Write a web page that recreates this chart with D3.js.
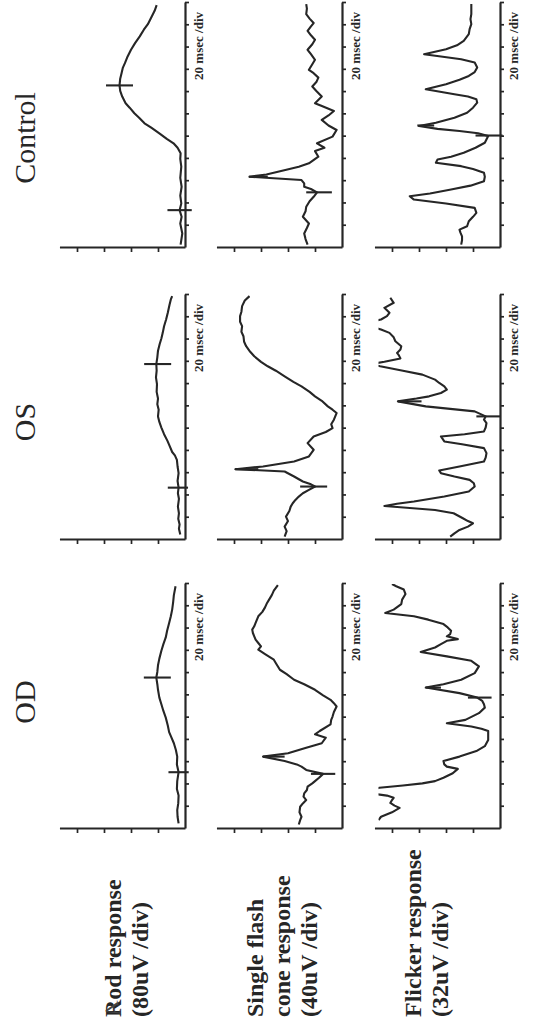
<!DOCTYPE html>
<html><head><meta charset="utf-8">
<script src="https://cdn.jsdelivr.net/npm/d3@7"></script>
<style>html,body{margin:0;padding:0;background:#fff;}svg{display:block}</style>
</head><body>
<svg id="chart" width="555" height="1034"></svg>
<script>
// ---------------- DATA ----------------
const columns = ["OD", "OS", "Control"];
const rowLabels = [
  ["Rod response", "(80uV /div)"],
  ["Single flash", "cone response", "(40uV /div)"],
  ["Flicker response", "(32uV /div)"]
];
const uVperDiv = [80, 40, 32];
const valueTickDivs = [1, 2, 3, 4];
const timeTicks = [20, 40, 60, 80, 100, 120, 140, 160, 180, 200, 220];
const timeMax = 220;
const timeLabel = "20 msec /div";

// Rod response (uV) vs time (ms)
const tRodOD = [5,11,17,23,30,36,43,51,58,65,71,77,82,87,93,100,106,112,118,125,130,136,141,147,153,160,166,172,178,185,191,197,204,210,218];
const vRodOD = [19,22,23,20,19,24,23,19,24,23,27,33,40,47,51,57,64,70,76,80,82,85,82,80,76,70,64,57,53,47,42,38,35,33,28];
const tRodOS = [5,10,14,19,24,30,37,42,47,53,60,66,72,76,79,84,89,95,101,106,111,117,122,127,133,140,146,152,158,164,170,176,181,186,192,198,204,211,216,219];
const vRodOS = [14,18,16,20,18,21,18,21,19,22,19,22,24,30,38,45,52,62,70,76,80,78,82,80,84,83,86,84,85,82,80,75,70,66,62,56,51,46,42,38];
const tRodCtl = [3,13,22,28,34,40,47,55,63,73,80,85,90,94,98,103,108,112,117,121,126,130,136,141,146,152,157,162,166,172,178,184,190,196,201,207,213,218];
const vRodCtl = [13,8,14,10,16,11,14,10,14,11,14,13,22,34,54,76,100,120,136,150,164,176,186,192,194,192,188,184,178,170,160,148,134,122,110,100,90,84];

// Single flash cone response
const tConeOD = [4,8,11,15,20,23,26,29,32,35,38,41,43,46,49.5,53,56,58,61,65,68,73,77,82,85,88,94,98,101,105,110,113,116,120,125,130,134,139,143,148,152,157,161,164,167,170,173,176,179,182,185,188,191,195,199,203,206,210,214,219];
const vConeOD = [64,62,60,63,62,58,53,57,56,52,51,44,40,34,28,53,60,67,85,117,80,53,30,24,40,33,17,16,14,12,8,12,17,28,40,56,71,82,92,97,101,114,124,120,124,128,130,132,133,130,128,126,124,118,114,111,108,104,101,95];
const tConeOS = [3,8,12,17,21,26,30,33,36,39,42,45,48,50,52.5,57,61.5,63.6,66,70.5,75,81,87,93,97,100.5,104,108,111,114,117,120,125,129,133,138,142,147,152,156,160,165,169,174,178,183,187,192,196,201,205,210,215,219];
const vConeOS = [85,82,85,80,83,78,76,73,69,64,58,49,40,46,58,71,85,158,117,71,49,42,51,42,24,14,16,12,10,8,14,21,30,40,48,60,72,85,98,110,120,130,136,142,145,146,149,148,151,151,149,148,144,137];
const tConeCtl = [3,8,13,18,22,28,33,37,42,46,50,53,55,58,61,64,66,70,73,76,82,87,90,94,100,106,110,115,119,123,127,130,136,141,145,149,153,157,160,165,169,174,178,183,187,191,195,199,202,206,210,215,219];
const vConeCtl = [51,54,56,52,49,58,54,53,48,42,37,46,56,56,60,137,112,84,64,49,35,40,26,37,14,8,20,30,20,12,28,40,30,38,44,38,35,42,49,44,40,46,51,44,40,46,51,46,42,48,53,52,53];

// Flicker response
const tFlkOD = [8,11,15,19,21,23.4,26,28,30,32,35,37,39,41,43,46,50,54,56,58,61,65,70,74.4,80,84,88,90,92,95,98,104,109,112,115,118,122,127,130,134,140,146,151,155,159,163,166,169,170.5,173,175,178,181,184,188,191,194,197,202,206,211,215,218,220];
const vFlkOD = [144,141,128,119,125,130,128,126,134,154,154,143,115,92,77,67,56,50,63,66,67,48,28,18,14,14,14,22,34,63,41,25,18,19,21,27,48,88,67,46,30,25,34,63,94,77,70,63,50,63,59,58,62,67,85,102,136,126,117,116,112,114,123,128];
const tFlkOS = [3,6,9,12,15,17,19.5,24,27,30.6,32.5,34.5,39,43.5,48,51,54,57,60,62.4,66,70.5,74,78,82.5,86,88.5,93,95,97.5,101,105,108,111,115.5,120,124.5,127,129,132,135,138,141,144,148.5,152,156,158,160,163,166,168,171,174,178.5,182,186,189,192,196,198,201,204,208.5,213,217.5];
const vFlkOS = [59,54,48,38,32,38,44,55,77,137,122,102,66,37,30,31,36,54,70,72,48,19,17,16,19,45,66,70,42,19,17,16,19,17,30,88,121,99,84,70,63,66,72,77,92,115,142,154,137,118,120,122,118,117,124,126,131,141,154,154,141,134,131,137,126,130];
const tFlkCtl = [3,7,10.5,14,16.5,19.5,24,28,31.5,36,40,43.5,46.5,49,52.5,56,60,64,67.5,71,73.5,76.5,79.5,82,85.5,90,94.5,100.5,103,105,107,109.5,112.5,117,121.5,126,130.5,133.5,136,138,142.5,147,151,154.5,158,162,166.5,169.5,172,174,178.5,182,186,192,196.5,201,205.5,210,219];
const vFlkCtl = [46,45,45,47,48,39,37,32,28,30,64,102,107,83,58,35,19,18,19,32,46,76,74,58,43,29,18,14,26,48,74,96,76,54,39,32,27,28,38,54,88,64,48,37,30,27,30,46,70,90,64,51,43,37,36,34,35,34,34];

// Cursor markers: time (ms), centre (uV), half length (uV)
const mkTimeRodOD = [51, 136],   mkCenRodOD = [19, 82],   mkHalfRodOD = [30, 40];
const mkTimeRodOS = [47, 158],   mkCenRodOS = [21, 81],   mkHalfRodOS = [30, 40];
const mkTimeRodCtl = [34, 146],  mkCenRodCtl = [16, 194], mkHalfRodCtl = [36, 40];
const mkTimeConeOD = [49.5, 65], mkCenConeOD = [28, 101], mkHalfConeOD = [18, 16];
const mkTimeConeOS = [48, 63.6], mkCenConeOS = [42, 141], mkHalfConeOS = [20, 17];
const mkTimeConeCtl = [50, 64],  mkCenConeCtl = [34, 124], mkHalfConeCtl = [19, 14];
const mkTimeFlkOD = [118, 127],  mkCenFlkOD = [24, 79],   mkHalfFlkOD = [14, 9];
const mkTimeFlkOS = [111, 124.5],mkCenFlkOS = [14, 107],  mkHalfFlkOS = [14, 14];
const mkTimeFlkCtl = [101, 110], mkCenFlkCtl = [13, 88],  mkHalfFlkCtl = [16, 10];

const traces = [
  [[tRodOD, vRodOD, mkTimeRodOD, mkCenRodOD, mkHalfRodOD],
   [tRodOS, vRodOS, mkTimeRodOS, mkCenRodOS, mkHalfRodOS],
   [tRodCtl, vRodCtl, mkTimeRodCtl, mkCenRodCtl, mkHalfRodCtl]],
  [[tConeOD, vConeOD, mkTimeConeOD, mkCenConeOD, mkHalfConeOD],
   [tConeOS, vConeOS, mkTimeConeOS, mkCenConeOS, mkHalfConeOS],
   [tConeCtl, vConeCtl, mkTimeConeCtl, mkCenConeCtl, mkHalfConeCtl]],
  [[tFlkOD, vFlkOD, mkTimeFlkOD, mkCenFlkOD, mkHalfFlkOD],
   [tFlkOS, vFlkOS, mkTimeFlkOS, mkCenFlkOS, mkHalfFlkOS],
   [tFlkCtl, vFlkCtl, mkTimeFlkCtl, mkCenFlkCtl, mkHalfFlkCtl]]
];

// ---------------- LAYOUT (unrotated frame: 1034 wide x 555 tall) ----------------
const colX0 = [205, 494, 786];
const panelW = 245;
const rowAxisY = [185, 342, 500];
const divPx = 27;
const axisTopDiv = 4.65;
const clipTopDiv = 4.5;
const ink = "#262626";
const serif = "'Liberation Serif', 'Times New Roman', serif";

const svg = d3.select("#chart");
svg.append("rect").attr("width", 555).attr("height", 1034).attr("fill", "#fff");
const defs = svg.append("defs");
const root = svg.append("g").attr("transform", "translate(0,1034) rotate(-90)");

// Column titles
const titleCx = [332, 612, 896];
columns.forEach((c, i) => {
  root.append("text").attr("x", titleCx[i]).attr("y", 35)
    .attr("text-anchor", "middle").attr("font-family", serif)
    .attr("font-size", 30).attr("fill", ink).text(c);
});

// Row labels
const labelBase = [[121, 148], [263, 290, 317], [421, 448]];
rowLabels.forEach((lines, r) => {
  lines.forEach((ln, k) => {
    root.append("text").attr("x", 17).attr("y", labelBase[r][k])
      .attr("font-family", serif).attr("font-weight", "bold")
      .attr("font-size", 24).attr("fill", ink).text(ln);
  });
});
// stray panel letter overlapping the "R"
root.append("text").attr("x", 17).attr("y", 119)
  .attr("font-family", serif).attr("font-size", 21)
  .attr("fill", "#444").attr("transform", "rotate(-14,26,112)").text("A");

// Panels
for (let r = 0; r < 3; r++) {
  for (let c = 0; c < 3; c++) {
    const uv = uVperDiv[r];
    const x = d3.scaleLinear().domain([0, timeMax]).range([colX0[c], colX0[c] + panelW]);
    const y = d3.scaleLinear().domain([0, axisTopDiv * uv])
      .range([rowAxisY[r], rowAxisY[r] - axisTopDiv * divPx]);
    const g = root.append("g");

    const gx = g.append("g").attr("transform", `translate(0,${rowAxisY[r]})`)
      .call(d3.axisBottom(x).tickValues(timeTicks).tickSize(4).tickSizeOuter(0).tickFormat(""));
    const gy = g.append("g").attr("transform", `translate(${colX0[c]},0)`)
      .call(d3.axisLeft(y).tickValues(valueTickDivs.map(k => k * uv)).tickSize(4).tickSizeOuter(0).tickFormat(""));
    [gx, gy].forEach(a => {
      a.select(".domain").attr("stroke", ink).attr("stroke-width", 2.2);
      a.selectAll(".tick line").attr("stroke", ink).attr("stroke-width", 1.7);
    });

    g.append("text").attr("x", colX0[c] + panelW - 9).attr("y", rowAxisY[r] + 18)
      .attr("text-anchor", "end").attr("font-family", serif)
      .attr("font-size", 13).attr("font-weight", "bold").attr("fill", ink).text(timeLabel);

    const id = `clip${r}${c}`;
    defs.append("clipPath").attr("id", id).append("rect")
      .attr("x", colX0[c]).attr("y", y(clipTopDiv * uv))
      .attr("width", panelW).attr("height", rowAxisY[r] - y(clipTopDiv * uv) + 2);

    const [ts, vs, mt, mc, mh] = traces[r][c];
    const pts = ts.map((t, i) => [t, vs[i]]);
    g.append("path").datum(pts)
      .attr("clip-path", `url(#${id})`)
      .attr("fill", "none").attr("stroke", ink).attr("stroke-width", 2.1)
      .attr("stroke-linejoin", "round")
      .attr("d", d3.line().x(d => x(d[0])).y(d => y(d[1])));

    g.selectAll(".mk").data(mt.map((t, i) => ({t, c: mc[i], h: mh[i]}))).join("line")
      .attr("x1", d => x(d.t)).attr("x2", d => x(d.t))
      .attr("y1", d => y(d.c - d.h)).attr("y2", d => y(d.c + d.h))
      .attr("stroke", ink).attr("stroke-width", 2.1);
  }
}
</script>
</body></html>
